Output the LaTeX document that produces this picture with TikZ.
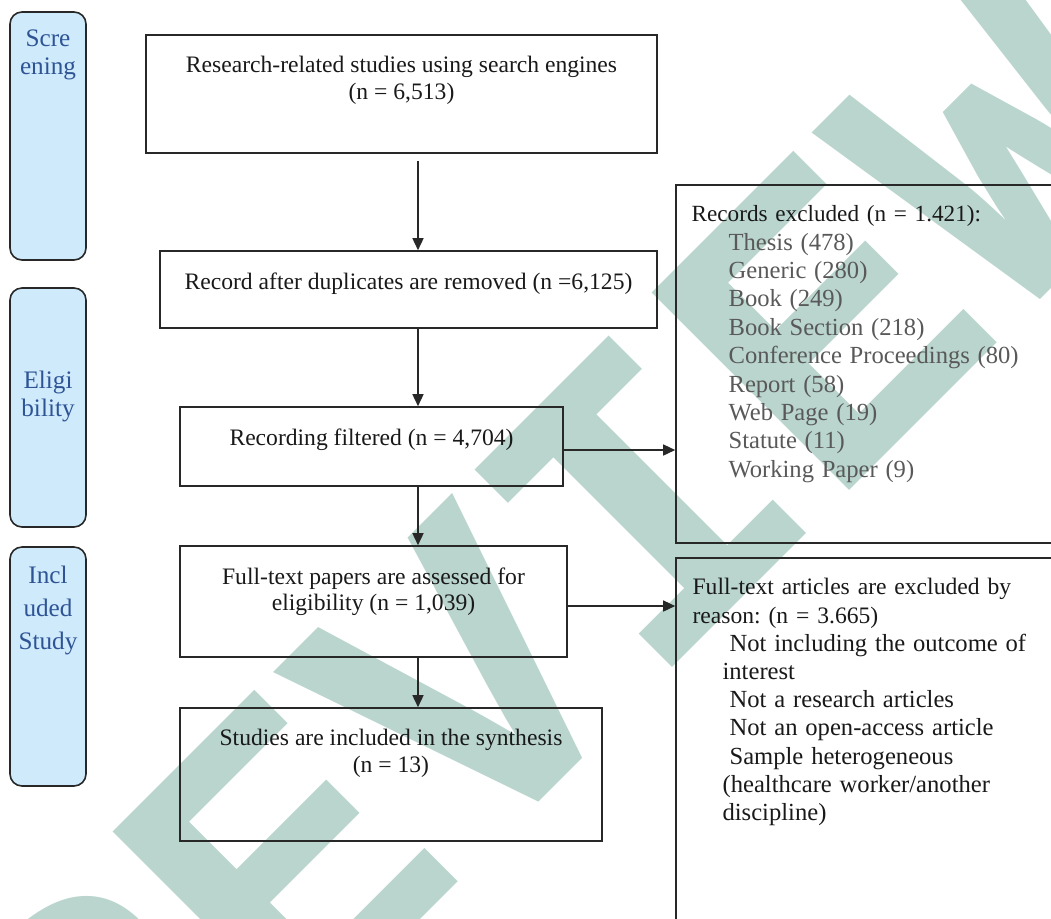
\documentclass[tikz,border=0pt]{standalone}
\usepackage{fontspec}
\setmainfont{Liberation Serif}
\newfontfamily\markfont{Liberation Mono}
\usetikzlibrary{positioning,arrows.meta,calc}
\frenchspacing

\definecolor{stagefill}{RGB}{206,234,251}
\definecolor{stageink}{RGB}{47,84,150}
\definecolor{frameink}{RGB}{40,40,40}
\definecolor{itemgray}{RGB}{89,89,89}
\definecolor{markteal}{RGB}{185,213,205}

\tikzset{
  flowbox/.style={draw=frameink, line width=0.8pt, inner sep=0pt},
  flowtext/.style={inner sep=0pt, align=center, text=black!90, font=\fontsize{11.8}{13.25}\selectfont},
  stagebox/.style={draw=frameink, line width=0.8pt, fill=stagefill, rounded corners=6pt, inner sep=0pt},
  stagetext/.style={inner sep=0pt, align=center, text=stageink, font=\fontsize{12.6}{14}\selectfont},
  flowarrow/.style={draw=frameink, line width=0.75pt, -{Triangle[length=6pt,width=5.5pt]}},
}

\begin{document}
\begin{tikzpicture}[x=0.5pt, y=-0.5pt]
  \useasboundingbox (0,0) rectangle (1051,918);
  \clip (0,0) rectangle (1051,918);

  % watermark behind the chart
  \node[text=markteal, font=\markfont\bfseries\fontsize{212}{212}\selectfont, rotate=45, inner sep=0pt, anchor=base] (mark) at (650,690) {REVIEW};

  % stage column
  \node[stagebox, minimum width=38pt, minimum height=124pt] (screen) at (48,136) {};
  \node[stagebox, minimum width=38pt, minimum height=119.5pt] (elig) at (48,407.5) {};
  \node[stagebox, minimum width=38pt, minimum height=119.5pt] (incl) at (48,666.5) {};
  \node[stagetext, below=9.25pt of screen.north] (screen-t) {Scre\\ening};
  \node[stagetext, below=41.75pt of elig.north] (elig-t) {Eligi\\bility};
  \node[stagetext, below=9.75pt of incl.north] (incl-t) {Incl\\[2.5pt]uded\\[2.5pt]Study};

  % main flow
  \node[flowbox, minimum width=255.5pt, minimum height=59pt] (search) at (401.5,94) {};
  \node[flowbox, minimum width=248.5pt, minimum height=38.5pt] (dedup) at (408.5,289.5) {};
  \node[flowbox, minimum width=191.5pt, minimum height=39.5pt] (filtered) at (371.5,446.5) {};
  \node[flowbox, minimum width=193.5pt, minimum height=55.5pt] (fulltext) at (373.5,601.5) {};
  \node[flowbox, minimum width=211pt, minimum height=66.5pt] (included) at (391,774.5) {};

  \node[flowtext, below=11pt of search.north] (search-t) {Research-related studies using search engines\\(n = 6,513)};
  \node[flowtext, below=11pt of dedup.north] (dedup-t) {Record after duplicates are removed (n =6,125)};
  \node[flowtext, below=11pt of filtered.north] (filtered-t) {Recording filtered (n = 4,704)};
  \node[flowtext, below=11pt of fulltext.north] (fulltext-t) {Full-text papers are assessed for\\eligibility (n = 1,039)};
  \node[flowtext, below=11pt of included.north] (included-t) {Studies are included in the synthesis\\(n = 13)};

  % exclusion boxes
  \node[flowbox, minimum width=194pt, minimum height=179pt] (excl1) at (870,364) {};
  \node[flowbox, minimum width=194pt, minimum height=221pt] (excl2) at (870,779) {};

  \node[inner sep=0pt, text width=180pt, align=left, text=black!90,
        font=\fontsize{11.6}{14.2}\selectfont, below right=10.5pt and 8pt of excl1.north west] (excl1-t)
    {Records excluded (n = 1.421):\\
     \color{itemgray}\fontsize{12.3}{14.2}\selectfont
     \hspace*{18.5pt}Thesis (478)\\
     \hspace*{18.5pt}Generic (280)\\
     \hspace*{18.5pt}Book (249)\\
     \hspace*{18.5pt}Book Section (218)\\
     \hspace*{18.5pt}Conference Proceedings (80)\\
     \hspace*{18.5pt}Report (58)\\
     \hspace*{18.5pt}Web Page (19)\\
     \hspace*{18.5pt}Statute (11)\\
     \hspace*{18.5pt}Working Paper (9)};

  \node[inner sep=0pt, text width=176.5pt, align=left, text=black!90,
        font=\fontsize{11.8}{14.1}\selectfont, below right=10.5pt and 8.5pt of excl2.north west] (excl2-t)
    {\makebox[176.5pt][s]{Full-text articles are excluded by}\\
     reason: (n = 3.665)\\
     \fontsize{12.3}{14.1}\selectfont
     \hspace*{18.5pt}Not including the outcome of\\
     \hspace*{15pt}interest\\
     \hspace*{18.5pt}Not a research articles\\
     \hspace*{18.5pt}Not an open-access article\\
     \hspace*{18.5pt}Sample heterogeneous\\
     \hspace*{15pt}(healthcare worker/another\\
     \hspace*{15pt}discipline)};

  % connectors
  \coordinate (spine) at (418,0);
  \draw[flowarrow] ($(spine |- search.south)+(0,7)$) -- (spine |- dedup.north);
  \draw[flowarrow] (spine |- dedup.south) -- (spine |- filtered.north);
  \draw[flowarrow] (spine |- filtered.south) -- (spine |- fulltext.north);
  \draw[flowarrow] (spine |- fulltext.south) -- (spine |- included.north);
  \coordinate (filtered-out) at ($(filtered.east)+(0,3.5)$);
  \coordinate (fulltext-out) at ($(fulltext.east)+(0,4.5)$);
  \draw[flowarrow] (filtered-out) -- (filtered-out -| excl1.west);
  \draw[flowarrow] (fulltext-out) -- (fulltext-out -| excl2.west);
\end{tikzpicture}
\end{document}
